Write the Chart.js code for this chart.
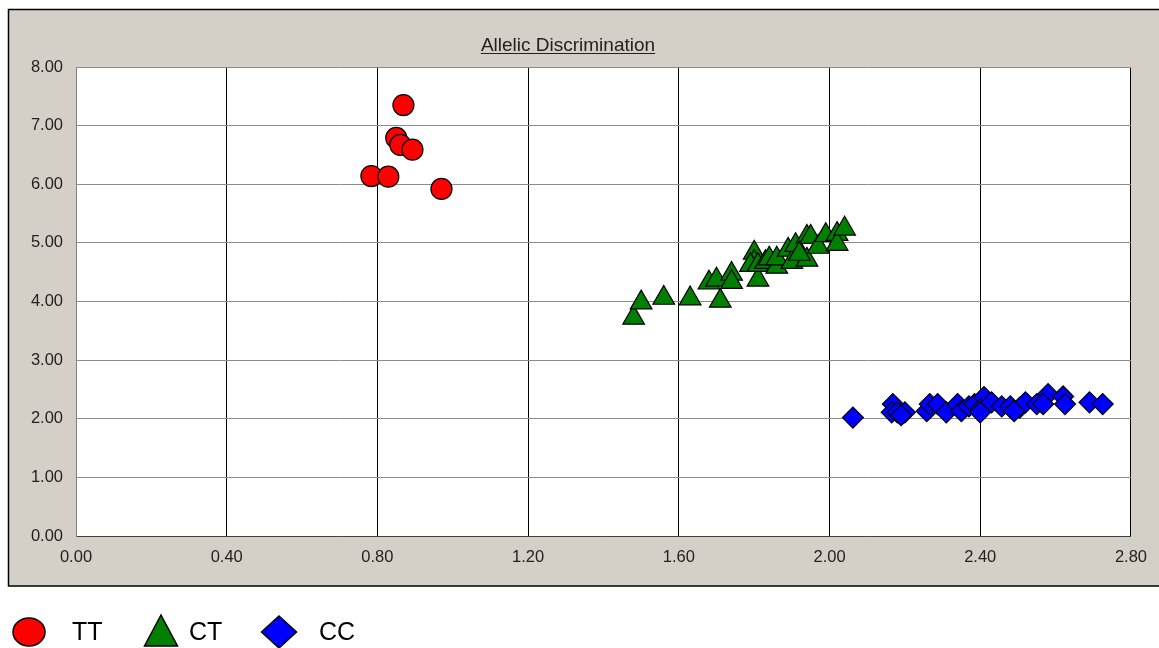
<!DOCTYPE html>
<html>
<head>
<meta charset="utf-8">
<script src="https://cdn.jsdelivr.net/npm/chart.js@4"></script>
<style>
  body { margin: 0; background: #ffffff; }
  #wrap { width: 1159px; height: 648px; }
</style>
</head>
<body>
<div id="wrap"><canvas id="chart" width="1159" height="648"></canvas></div>
<script>
// Genotype clusters (allele X vs allele Y signal)
const ttX = [0.869, 0.850, 0.861, 0.893, 0.784, 0.829, 0.970];
const ttY = [7.35, 6.79, 6.67, 6.59, 6.14, 6.13, 5.92];

const ctX = [1.48, 1.50, 1.56, 1.63, 1.71, 1.68, 1.70, 1.74, 1.74, 1.81,
             1.80, 1.80, 1.79, 1.81, 1.83, 1.84, 1.86, 1.86, 1.89, 1.90,
             1.91, 1.94, 1.94, 1.95, 1.97, 1.99, 2.02, 2.02, 2.04, 1.92];
const ctY = [3.72, 3.98, 4.06, 4.05, 4.01, 4.32, 4.37, 4.47, 4.33, 4.37,
             4.83, 4.67, 4.62, 4.62, 4.67, 4.73, 4.59, 4.73, 4.88, 4.67,
             4.96, 4.71, 5.10, 5.10, 4.93, 5.13, 5.15, 4.98, 5.24, 4.81];

const ccX = [2.062, 2.168, 2.165, 2.18, 2.20, 2.258, 2.266, 2.287, 2.31, 2.34,
             2.35, 2.37, 2.385, 2.41, 2.40, 2.43, 2.457, 2.48, 2.505, 2.52,
             2.55, 2.58, 2.567, 2.62, 2.625, 2.69, 2.725, 2.40, 2.49, 2.19];
const ccY = [2.02, 2.25, 2.11, 2.11, 2.11, 2.13, 2.25, 2.25, 2.11, 2.25,
             2.13, 2.21, 2.25, 2.37, 2.16, 2.28, 2.21, 2.21, 2.19, 2.28,
             2.25, 2.42, 2.25, 2.38, 2.25, 2.28, 2.25, 2.11, 2.13, 2.06];

const xTicks = [0, 0.4, 0.8, 1.2, 1.6, 2.0, 2.4, 2.8];
const yTicks = [0, 1, 2, 3, 4, 5, 6, 7, 8];

const chartTitle = 'Allelic Discrimination';
const FONT = '"Liberation Sans", Arial, sans-serif';

const toPoints = (xs, ys) => xs.map((x, i) => ({ x, y: ys[i] }));

// Gray panel behind the plot, title and the legend row below it
const panelPlugin = {
  id: 'panel',
  beforeDraw(chart) {
    const { ctx, chartArea } = chart;
    ctx.save();
    ctx.fillStyle = '#ffffff';
    ctx.fillRect(0, 0, chart.width, chart.height);
    ctx.fillStyle = '#d4d0c8';
    ctx.fillRect(8, 9, chart.width - 8, 577);
    ctx.strokeStyle = '#000000';
    ctx.lineWidth = 1.5;
    ctx.beginPath();
    ctx.moveTo(chart.width, 9.5);
    ctx.lineTo(8.5, 9.5);
    ctx.lineTo(8.5, 586);
    ctx.lineTo(chart.width, 586);
    ctx.stroke();
    ctx.fillStyle = '#ffffff';
    ctx.fillRect(chartArea.left, chartArea.top, chartArea.right - chartArea.left, chartArea.bottom - chartArea.top);
    ctx.restore();
  },
  afterDraw(chart) {
    const { ctx } = chart;
    ctx.save();

    // Underlined title
    ctx.font = '19px ' + FONT;
    ctx.fillStyle = '#222222';
    ctx.textAlign = 'center';
    ctx.textBaseline = 'alphabetic';
    const cx = 568;
    ctx.fillText(chartTitle, cx, 51);
    const w = ctx.measureText(chartTitle).width;
    ctx.strokeStyle = '#222222';
    ctx.lineWidth = 1;
    ctx.beginPath();
    ctx.moveTo(cx - w / 2, 53.5);
    ctx.lineTo(cx + w / 2, 53.5);
    ctx.stroke();

    // Legend row
    const items = [
      { mx: 29, tx: 72 },
      { mx: 161, tx: 189 },
      { mx: 279, tx: 319 }
    ];
    const my = 632;
    chart.data.datasets.forEach((ds, i) => {
      const { mx, tx } = items[i];
      ctx.fillStyle = ds.backgroundColor;
      ctx.strokeStyle = '#000000';
      ctx.lineWidth = 1.5;
      ctx.beginPath();
      if (ds.pointStyle === 'circle') {
        ctx.ellipse(mx, my, 16, 14, 0, 0, Math.PI * 2);
      } else if (ds.pointStyle === 'triangle') {
        ctx.moveTo(mx, my - 17);
        ctx.lineTo(mx + 16.5, my + 14);
        ctx.lineTo(mx - 16.5, my + 14);
        ctx.closePath();
      } else {
        ctx.moveTo(mx, my - 16);
        ctx.lineTo(mx + 17.5, my);
        ctx.lineTo(mx, my + 16);
        ctx.lineTo(mx - 17.5, my);
        ctx.closePath();
      }
      ctx.fill();
      ctx.stroke();
      ctx.fillStyle = '#000000';
      ctx.font = '25px ' + FONT;
      ctx.textAlign = 'left';
      ctx.textBaseline = 'middle';
      ctx.fillText(ds.label, tx, my + 1);
    });
    ctx.restore();
  }
};

new Chart(document.getElementById('chart'), {
  type: 'scatter',
  data: {
    datasets: [
      {
        label: 'TT',
        data: toPoints(ttX, ttY),
        pointStyle: 'circle',
        radius: 10.5,
        backgroundColor: '#ff0000',
        borderColor: '#000000',
        borderWidth: 1.2
      },
      {
        label: 'CT',
        data: toPoints(ctX, ctY),
        pointStyle: 'triangle',
        radius: 12.5,
        backgroundColor: '#007f00',
        borderColor: '#000000',
        borderWidth: 1.2
      },
      {
        label: 'CC',
        data: toPoints(ccX, ccY),
        pointStyle: 'rectRot',
        radius: 10.5,
        backgroundColor: '#0000ff',
        borderColor: '#000000',
        borderWidth: 1.2
      }
    ]
  },
  options: {
    responsive: false,
    animation: false,
    layout: { padding: { left: 0, top: 67, right: 28, bottom: 0 } },
    plugins: {
      legend: { display: false },
      title: { display: false },
      tooltip: { enabled: false }
    },
    scales: {
      x: {
        type: 'linear',
        min: 0,
        max: 2.8,
        afterFit: (scale) => { scale.height = 112; },
        afterBuildTicks: (scale) => { scale.ticks = xTicks.map(v => ({ value: v })); },
        ticks: {
          padding: 12,
          maxRotation: 0,
          color: '#222222',
          font: { family: FONT, size: 16.5 },
          callback: (v) => Number(v).toFixed(2)
        },
        grid: {
          drawTicks: false,
          color: (c) => (c.tick && c.tick.value === 0 ? '#808080' : '#000000'),
          lineWidth: 1
        },
        border: { display: true, color: '#404040', width: 1 }
      },
      y: {
        type: 'linear',
        min: 0,
        max: 8,
        afterFit: (scale) => { scale.width = 76; },
        afterBuildTicks: (scale) => { scale.ticks = yTicks.map(v => ({ value: v })); },
        ticks: {
          padding: 13,
          color: '#222222',
          font: { family: FONT, size: 16.5 },
          callback: (v) => Number(v).toFixed(2)
        },
        grid: {
          drawTicks: false,
          color: '#8c8c8c',
          lineWidth: 1
        },
        border: { display: true, color: '#808080', width: 1 }
      }
    }
  },
  plugins: [panelPlugin]
});
</script>
</body>
</html>
